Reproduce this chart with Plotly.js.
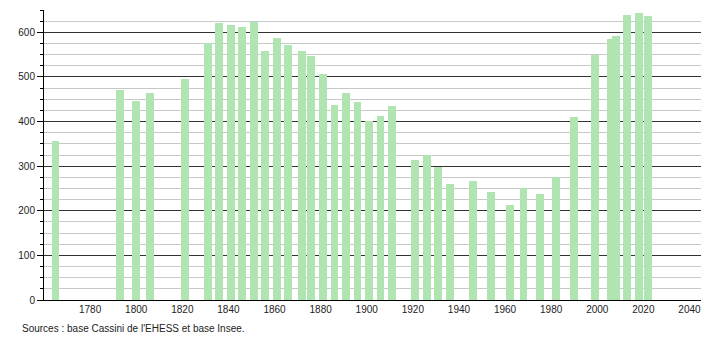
<!DOCTYPE html>
<html>
<head>
<meta charset="utf-8">
<script src="https://cdn.plot.ly/plotly-3.0.1.min.js"></script>
<style>
html,body{margin:0;padding:0;background:#fff;}
#chart{width:710px;height:340px;}
</style>
</head>
<body>
<div id="chart"></div>
<script>
const years = [1765, 1793, 1800, 1806, 1821, 1831, 1836, 1841, 1846, 1851, 1856, 1861, 1866, 1872, 1876, 1881, 1886, 1891, 1896, 1901, 1906, 1911, 1921, 1926, 1931, 1936, 1946, 1954, 1962, 1968, 1975, 1982, 1990, 1999, 2006, 2008, 2013, 2018, 2022];
const population = [356, 471, 445, 463, 495, 576, 621, 616, 612, 624, 557, 587, 571, 557, 546, 506, 437, 465, 443, 401, 412, 434, 313, 325, 299, 260, 266, 242, 213, 250, 238, 275, 410, 549, 586, 591, 639, 643, 636];
const xTicks = [1780, 1800, 1820, 1840, 1860, 1880, 1900, 1920, 1940, 1960, 1980, 2000, 2020, 2040];
const yTicks = [0, 100, 200, 300, 400, 500, 600];
const sourceText = "Sources : base Cassini de l'EHESS et base Insee.";

const trace = {
  type: 'bar',
  x: years,
  y: population,
  width: 3.4,
  marker: {color: '#b0e4b0', line: {width: 0}},
  hoverinfo: 'x+y'
};

const layout = {
  width: 710,
  height: 340,
  margin: {l: 44, r: 9, t: 10, b: 40},
  paper_bgcolor: '#fff',
  plot_bgcolor: '#fff',
  showlegend: false,
  font: {family: 'Liberation Sans, Arial, sans-serif', size: 10, color: '#222'},
  xaxis: {
    range: [1760, 2045],
    tickvals: xTicks,
    ticktext: xTicks.map(String),
    ticks: '',
    showgrid: false,
    zeroline: false,
    showline: true,
    linecolor: '#000',
    linewidth: 1,
    tickfont: {size: 10, color: '#222'},
    fixedrange: true
  },
  yaxis: {
    range: [0, 650],
    tickvals: yTicks,
    ticks: 'outside',
    ticklen: 6,
    tickcolor: '#000',
    showgrid: true,
    gridcolor: '#333',
    gridwidth: 1,
    zeroline: false,
    showline: true,
    linecolor: '#000',
    linewidth: 1,
    tickfont: {size: 10, color: '#222'},
    minor: {dtick: 25, tick0: 0, showgrid: true, gridcolor: '#c8c8c8', gridwidth: 1, ticks: 'outside', ticklen: 3, tickcolor: '#000'},
    fixedrange: true
  },
  annotations: [{
    text: sourceText,
    xref: 'paper', yref: 'paper',
    x: -0.037, y: -0.074,
    xanchor: 'left', yanchor: 'top',
    showarrow: false,
    font: {size: 10, color: '#222'}
  }],
  bargap: 0
};

Plotly.newPlot('chart', [trace], layout, {displayModeBar: false, staticPlot: true});
</script>
</body>
</html>
